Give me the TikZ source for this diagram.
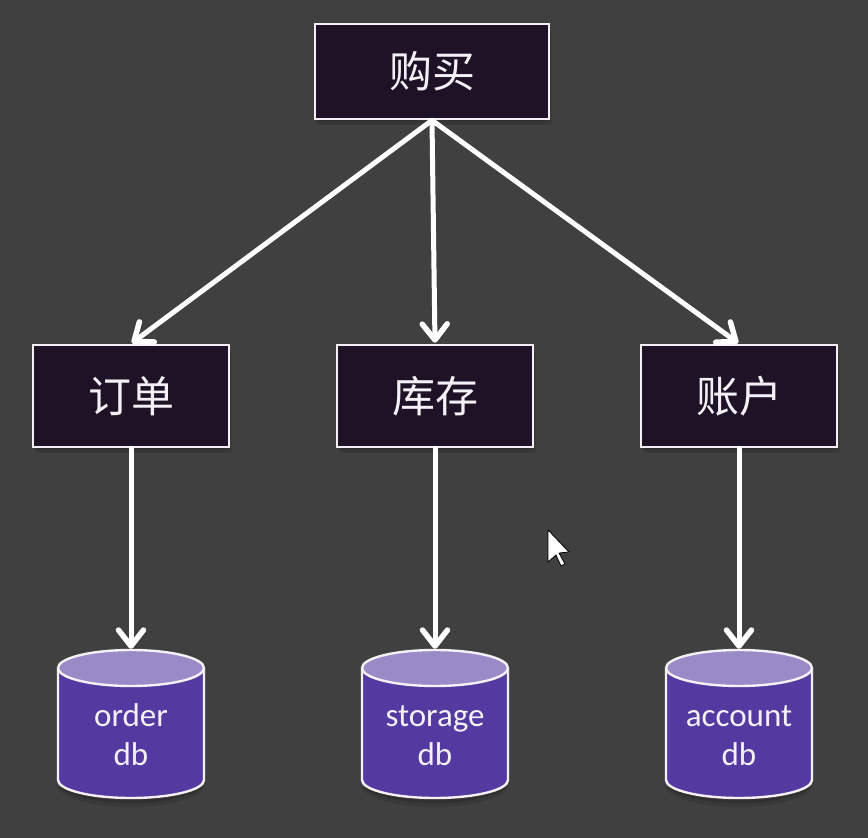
\documentclass[tikz,border=0pt]{standalone}
\usepackage{fontspec}
\setmainfont{Carlito}
\newfontfamily\cjk{Noto Sans CJK SC}
\usetikzlibrary{arrows.meta,shadows}
\definecolor{bgc}{HTML}{404040}
\definecolor{boxc}{HTML}{1F1227}
\definecolor{dbbody}{HTML}{5339A0}
\definecolor{dbtop}{HTML}{9A8BC8}
\definecolor{edgec}{HTML}{F4F0F6}
\tikzset{
  x=1pt,y=-1pt,
  svc/.style={draw=edgec,line width=2.6pt,fill=boxc,text=edgec,inner sep=0pt,
    minimum width=196pt,minimum height=102pt,font=\cjk\fontsize{43}{43}\selectfont,
    drop shadow={shadow xshift=1pt,shadow yshift=-3pt,opacity=.12,fill=black},
    drop shadow={shadow xshift=3pt,shadow yshift=-6pt,opacity=.10,fill=black}},
  dbnode/.style={inner sep=0pt,minimum width=146pt,minimum height=148pt,text=edgec,align=center,
    font=\fontsize{33}{39}\selectfont},
  dbedge/.style={draw=edgec,line width=2.4pt,line join=round},
  link/.style={draw=white,line width=5pt,line cap=round,
    -{Straight Barb[length=16pt,width=25pt,line width=5.5pt,round]},shorten >=1pt}
}
% centre x, name, first line
\newcommand{\dbcyl}[3]{%
  \begin{scope}[shift={(#1,0)}]
    \fill[black,opacity=.10] (-73,668) -- (-73,786) .. controls (-73,797) and (-40,807) .. (0,807)
      .. controls (40,807) and (73,797) .. (73,786) -- (73,668) -- cycle;
    \fill[black,opacity=.14] (-73,668) -- (-73,783) .. controls (-73,794) and (-40,803) .. (0,803)
      .. controls (40,803) and (73,794) .. (73,783) -- (73,668) -- cycle;
    \path[fill=dbbody,dbedge] (-73,668) -- (-73,780) .. controls (-73,790) and (-40,798) .. (0,798)
      .. controls (40,798) and (73,790) .. (73,780) -- (73,668) -- cycle;
    \path[fill=dbtop,dbedge] (0,668) ellipse [x radius=73,y radius=18];
  \end{scope}
  \node[dbnode] (#2) at (#1,724) {\vphantom{}\\[5pt]#3\\db};
}
\begin{document}
\begin{tikzpicture}
\useasboundingbox[fill=bgc] (0,0) rectangle (868,838);
\node[svc,minimum width=234pt,minimum height=95pt] (buy) at (432,71.5) {购买};
\node[svc] (order) at (131,396) {订单};
\node[svc] (storage) at (435,396) {库存};
\node[svc] (account) at (739,396) {账户};
\dbcyl{131}{orderdb}{order}
\dbcyl{435}{storagedb}{storage}
\dbcyl{739}{accountdb}{account}
\draw[link] (buy.south) -- (order.north);
\draw[link] (buy.south) -- (storage.north);
\draw[link] (buy.south) -- (account.north);
\draw[link] (order.south) -- (orderdb.north);
\draw[link] (storage.south) -- (storagedb.north);
\draw[link] (account.south) -- (accountdb.north);
\fill[white,draw=black,line width=.8pt,line join=round]
  (548,530) -- (569,552) -- (559,553) -- (565,564) -- (561,566) -- (556,555) -- (548,562) -- cycle;
\end{tikzpicture}
\end{document}
